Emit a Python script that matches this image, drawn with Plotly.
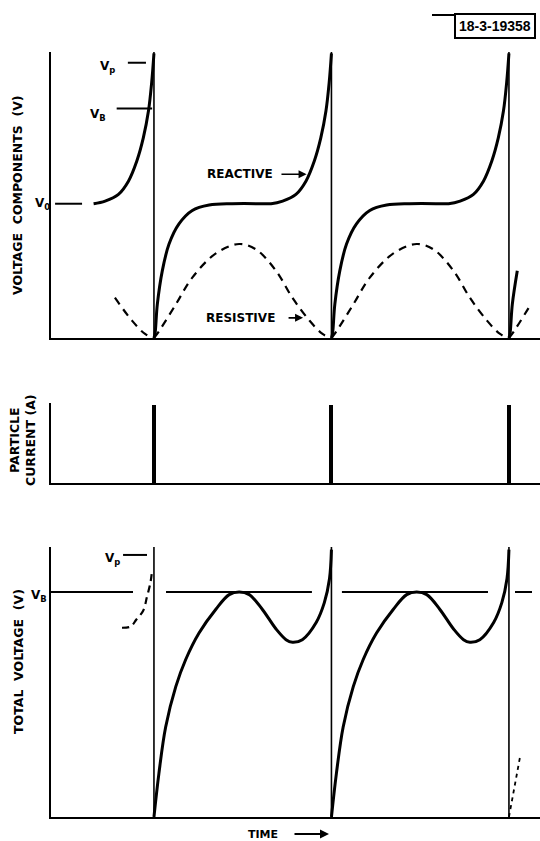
import plotly.graph_objects as go

# ---------------- data ----------------
FIRINGS = [1.0, 2.0, 3.0]          # particle bursts (one per period)
T_RANGE = [0.42, 3.175]           # visible time window (periods)

# top panel: voltage components
V0_LEVEL = 1.00
VB_LEVEL_TOP = 1.71
VP_LEVEL_TOP = 2.05
TOP_MAX = 2.13

react_phase = [0.000, 0.006, 0.019, 0.047, 0.085, 0.141, 0.216, 0.311, 0.44, 0.63, 0.66,
               0.725, 0.80, 0.857, 0.904, 0.94, 0.969, 0.987, 1.00]
react_val = [0.00, 0.03, 0.25, 0.50, 0.70, 0.85, 0.95, 0.99, 1.00, 1.00, 1.00,
             1.02, 1.07, 1.17, 1.32, 1.49, 1.69, 1.90, 2.12]

resist_phase = [0.00, 0.028, 0.123, 0.216, 0.349, 0.48, 0.575, 0.688, 0.78, 0.876, 0.95, 1.00]
resist_val = [0.00, 0.05, 0.25, 0.45, 0.63, 0.70, 0.66, 0.50, 0.30, 0.13, 0.03, 0.00]

# middle panel: particle current spikes
current_amp = [0.97, 0.97, 0.97]
CUR_MAX = 1.0

# bottom panel: total voltage
VB_LEVEL_BOT = 1.70
VP_LEVEL_BOT = 1.98
BOT_MAX = 2.04

total_phase = [0.000, 0.028, 0.066, 0.123, 0.179, 0.254, 0.349, 0.424, 0.48, 0.537, 0.61,
               0.688, 0.744, 0.78, 0.836, 0.914, 0.96, 0.989, 1.00]
total_val = [0.00, 0.33, 0.68, 0.985, 1.19, 1.39, 1.57, 1.68, 1.70, 1.68, 1.57,
             1.42, 1.34, 1.32, 1.34, 1.47, 1.62, 1.80, 2.02]

prev_total_phase = [0.82, 0.87, 0.90, 0.94, 0.96, 0.98, 0.99]
prev_total_val = [1.43, 1.44, 1.49, 1.56, 1.66, 1.77, 1.87]
next_total_phase = [0.00, 0.03, 0.062]
next_total_val = [0.00, 0.22, 0.45]

vb_seg_start = [0.42, 1.068, 2.059, 3.034]
vb_seg_end = [0.882, 1.890, 2.882, 3.130]

# reference marks (start, end) in time units
v0_mark = [0.443, 0.595]
vb_mark_top = [0.79, 0.99]
vp_mark_top = [0.853, 0.955]
vp_mark_bot = [0.826, 0.961]


# ---------------- helpers ----------------
def periodic(phases, vals, start, lo, hi):
    xs, ys = [], []
    for p, v in zip(phases, vals):
        t = start + p
        if lo - 1e-9 <= t <= hi + 1e-9:
            xs.append(t)
            ys.append(v)
    return xs + [None], ys + [None]


fig = go.Figure()
BLACK = "black"
FONT = "DejaVu Sans"

# reactive (solid)
rx, ry = [], []
for s, lo, hi in [(0.0, 0.66, 1.0), (1.0, 1.0, 2.0), (2.0, 2.0, 3.0), (3.0, 3.0, 3.05)]:
    a, b = periodic(react_phase, react_val, s, lo, hi)
    rx += a
    ry += b
fig.add_trace(go.Scatter(x=rx, y=ry, mode="lines", line=dict(color=BLACK, width=3, shape="spline", smoothing=1.0),
                         xaxis="x", yaxis="y", hoverinfo="skip"))

# resistive (dashed)
sx, sy = [], []
for s, lo, hi in [(0.0, 0.77, 1.0), (1.0, 1.0, 2.0), (2.0, 2.0, 3.0), (3.0, 3.0, 3.175)]:
    a, b = periodic(resist_phase, resist_val, s, lo, hi)
    sx += a
    sy += b
fig.add_trace(go.Scatter(x=sx, y=sy, mode="lines",
                         line=dict(color=BLACK, width=2.2, dash="8px,6px", shape="spline", smoothing=1.0),
                         xaxis="x", yaxis="y", hoverinfo="skip"))

# reference tick marks on top panel
for (a, b), lvl in [(v0_mark, V0_LEVEL), (vb_mark_top, VB_LEVEL_TOP), (vp_mark_top, VP_LEVEL_TOP)]:
    fig.add_trace(go.Scatter(x=[a, b], y=[lvl, lvl], mode="lines", line=dict(color=BLACK, width=2),
                             xaxis="x", yaxis="y", hoverinfo="skip"))

# particle current spikes
fig.add_trace(go.Bar(x=FIRINGS, y=current_amp, width=0.022, marker=dict(color=BLACK, line=dict(width=0)),
                     xaxis="x2", yaxis="y2", hoverinfo="skip"))

# total voltage
tx, ty = [], []
for s in [1.0, 2.0]:
    a, b = periodic(total_phase, total_val, s, s, s + 1.0)
    tx += a
    ty += b
fig.add_trace(go.Scatter(x=tx, y=ty, mode="lines", line=dict(color=BLACK, width=3, shape="spline", smoothing=1.0),
                         xaxis="x3", yaxis="y3", hoverinfo="skip"))
fig.add_trace(go.Scatter(x=prev_total_phase, y=prev_total_val, mode="lines",
                         line=dict(color=BLACK, width=2.2, dash="7px,5px", shape="spline"),
                         xaxis="x3", yaxis="y3", hoverinfo="skip"))
fig.add_trace(go.Scatter(x=[3.0 + p for p in next_total_phase], y=next_total_val, mode="lines",
                         line=dict(color=BLACK, width=1.8, dash="4px,4px"),
                         xaxis="x3", yaxis="y3", hoverinfo="skip"))

# VB level line (broken) on bottom panel
bx, by = [], []
for a, b in zip(vb_seg_start, vb_seg_end):
    bx += [a, b, None]
    by += [VB_LEVEL_BOT, VB_LEVEL_BOT, None]
fig.add_trace(go.Scatter(x=bx, y=by, mode="lines", line=dict(color=BLACK, width=2),
                         xaxis="x3", yaxis="y3", hoverinfo="skip"))
fig.add_trace(go.Scatter(x=vp_mark_bot, y=[VP_LEVEL_BOT] * 2, mode="lines", line=dict(color=BLACK, width=2),
                         xaxis="x3", yaxis="y3", hoverinfo="skip"))

# vertical firing lines (top and bottom panels)
shapes = []
for f in FIRINGS:
    for xr, yr in [("x", "y"), ("x3", "y3")]:
        shapes.append(dict(type="line", xref=xr, yref=yr + " domain", x0=f, x1=f, y0=0, y1=1,
                           line=dict(color=BLACK, width=1.6)))

H = 841.0
def px_x(px):
    return (px - 51) / 489.0
def px_y(py):
    return 1 - py / H

# line leading to the figure-number box
shapes.append(dict(type="line", xref="paper", yref="paper", x0=px_x(432), x1=px_x(454),
                   y0=px_y(15), y1=px_y(15), line=dict(color=BLACK, width=2)))

ax_common = dict(showgrid=False, zeroline=False, showticklabels=False, ticks="",
                 showline=True, linecolor=BLACK, linewidth=2)

def dom(top_px, bot_px):
    return [1 - bot_px / H, 1 - top_px / H]

fig.update_layout(
    width=540, height=841,
    margin=dict(l=51, r=0, t=0, b=0),
    paper_bgcolor="white", plot_bgcolor="white",
    showlegend=False,
    bargap=0,
    xaxis=dict(range=T_RANGE, anchor="y", domain=[0, 1], **ax_common),
    yaxis=dict(range=[0, TOP_MAX], anchor="x", domain=dom(52, 338), **ax_common),
    xaxis2=dict(range=T_RANGE, anchor="y2", domain=[0, 1], **ax_common),
    yaxis2=dict(range=[0, CUR_MAX], anchor="x2", domain=dom(403, 483), **ax_common),
    xaxis3=dict(range=T_RANGE, anchor="y3", domain=[0, 1], **ax_common),
    yaxis3=dict(range=[0, BOT_MAX], anchor="x3", domain=dom(547, 817), **ax_common),
    shapes=shapes,
)

ann = []
C = dict(xanchor="center", yanchor="middle")
lab_font = dict(family=FONT, size=12, color=BLACK)
title_font = dict(family=FONT, size=12.5, color=BLACK)

# axis titles
ann.append(dict(text="<b>VOLTAGE  COMPONENTS  (V)</b>", xref="paper", yref="paper", x=px_x(18), y=px_y(195),
                textangle=-90, showarrow=False, font=title_font, **C))
ann.append(dict(text="<b>PARTICLE<br>CURRENT (A)</b>", xref="paper", yref="paper", x=px_x(22), y=px_y(440),
                textangle=-90, showarrow=False, font=title_font, **C))
ann.append(dict(text="<b>TOTAL  VOLTAGE  (V)</b>", xref="paper", yref="paper", x=px_x(18), y=px_y(662),
                textangle=-90, showarrow=False, font=title_font, **C))
ann.append(dict(text="<b>TIME</b>", xref="paper", yref="paper", x=px_x(263), y=px_y(834),
                showarrow=False, font=dict(family=FONT, size=11, color=BLACK), **C))
ann.append(dict(text="", xref="paper", yref="paper", axref="pixel", ayref="pixel",
                x=px_x(329), y=px_y(834), ax=-36, ay=0,
                showarrow=True, arrowhead=2, arrowsize=1, arrowwidth=1.8, arrowcolor=BLACK, standoff=0))

# level labels
ann.append(dict(text="<b>V<sub>0</sub></b>", xref="paper", yref="y", x=px_x(42), y=V0_LEVEL,
                showarrow=False, font=lab_font, **C))
ann.append(dict(text="<b>V<sub>p</sub></b>", xref="x", yref="y", x=0.741, y=VP_LEVEL_TOP - 0.03,
                showarrow=False, font=lab_font, **C))
ann.append(dict(text="<b>V<sub>B</sub></b>", xref="x", yref="y", x=0.685, y=VB_LEVEL_TOP - 0.05,
                showarrow=False, font=lab_font, **C))
ann.append(dict(text="<b>V<sub>p</sub></b>", xref="x3", yref="y3", x=0.764, y=VP_LEVEL_BOT - 0.03,
                showarrow=False, font=lab_font, **C))
ann.append(dict(text="<b>V<sub>B</sub></b>", xref="paper", yref="y3", x=px_x(39), y=VB_LEVEL_BOT - 0.03,
                showarrow=False, font=lab_font, **C))

# curve labels
ann.append(dict(text="<b>REACTIVE</b>", xref="x", yref="y", x=1.485, y=1.22, showarrow=False,
                font=dict(family=FONT, size=12, color=BLACK), **C))
ann.append(dict(text="", xref="x", yref="y", axref="x", ayref="y", x=1.86, y=1.22, ax=1.71, ay=1.22,
                showarrow=True, arrowhead=2, arrowsize=1, arrowwidth=1.6, arrowcolor=BLACK, standoff=0))
ann.append(dict(text="<b>RESISTIVE</b>", xref="x", yref="y", x=1.49, y=0.15, showarrow=False,
                font=dict(family=FONT, size=12, color=BLACK), **C))
ann.append(dict(text="", xref="x", yref="y", axref="x", ayref="y", x=1.84, y=0.15, ax=1.75, ay=0.15,
                showarrow=True, arrowhead=2, arrowsize=1, arrowwidth=1.6, arrowcolor=BLACK, standoff=0))

# figure number box
ann.append(dict(text="<b>18-3-19358</b>", xref="paper", yref="paper", x=px_x(495), y=px_y(26),
                showarrow=False, bordercolor=BLACK, borderwidth=2, borderpad=3,
                font=dict(family="Liberation Sans Narrow, Liberation Sans", size=14, color=BLACK), **C))

fig.update_layout(annotations=ann)
fig.write_html("out.html", config={"displayModeBar": False},
               post_script="document.body.style.margin='0';document.body.style.overflow='hidden';")
